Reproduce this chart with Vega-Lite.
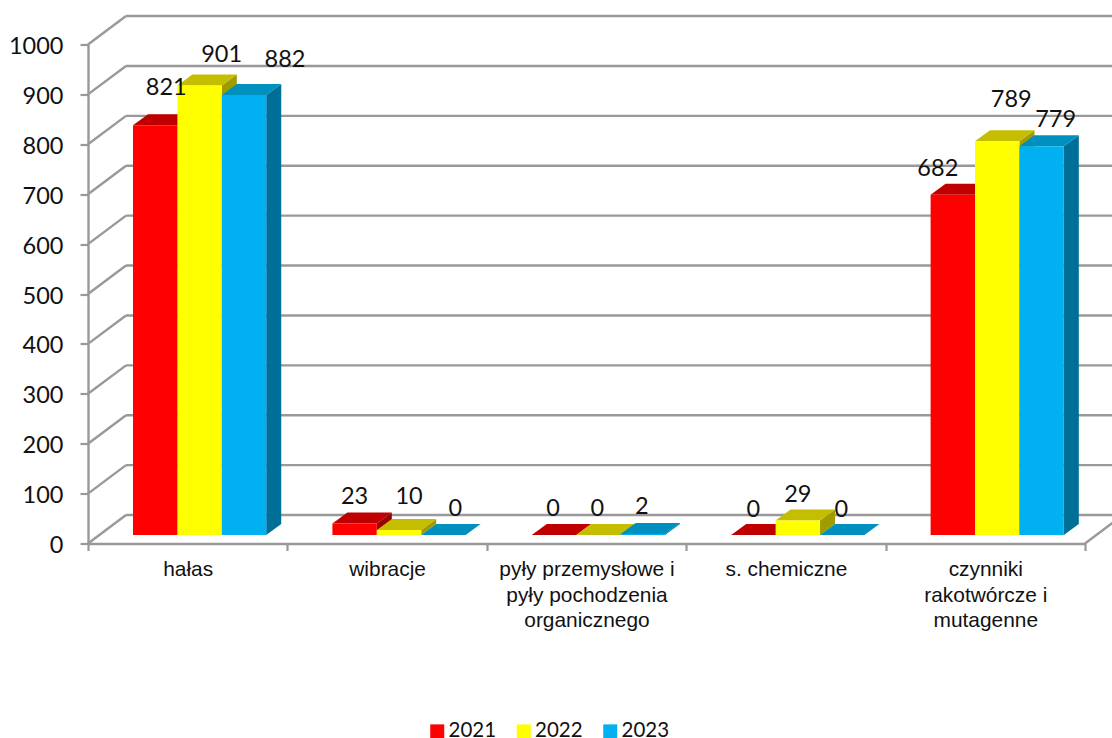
{
"$schema":"https://vega.github.io/schema/vega-lite/v6.json",
"width":997,"height":499,
"autosize":{"type":"none"},
"padding":{"left":88,"top":44.5,"right":27,"bottom":194.5},
"background":"white",
"view":{"stroke":null},
"datasets":{
"rows":[
{"category":"hałas","year":"2021","value":821},{"category":"hałas","year":"2022","value":901},{"category":"hałas","year":"2023","value":882},
{"category":"wibracje","year":"2021","value":23},{"category":"wibracje","year":"2022","value":10},{"category":"wibracje","year":"2023","value":0},
{"category":"pyły przemysłowe i pyły pochodzenia organicznego","year":"2021","value":0},{"category":"pyły przemysłowe i pyły pochodzenia organicznego","year":"2022","value":0},{"category":"pyły przemysłowe i pyły pochodzenia organicznego","year":"2023","value":2},
{"category":"s. chemiczne","year":"2021","value":0},{"category":"s. chemiczne","year":"2022","value":29},{"category":"s. chemiczne","year":"2023","value":0},
{"category":"czynniki rakotwórcze i mutagenne","year":"2021","value":682},{"category":"czynniki rakotwórcze i mutagenne","year":"2022","value":789},{"category":"czynniki rakotwórcze i mutagenne","year":"2023","value":779}
],
"grid":[{"g":0},{"g":100},{"g":200},{"g":300},{"g":400},{"g":500},{"g":600},{"g":700},{"g":800},{"g":900},{"g":1000}]
},
"layer":[
{
"data":{"name":"grid"},
"transform":[{"calculate":"datum.g+57","as":"gb"}],
"layer":[
{"mark":{"type":"rule","color":"#999999","strokeWidth":2.4},
"encoding":{
"x":{"datum":0.1906,"type":"quantitative","scale":{"domain":[0,5],"nice":false,"zero":false},
"axis":{"values":[0,1,2,3,4,5],"title":null,"grid":false,"domainColor":"#999999","domainWidth":2.4,"tickColor":"#999999","tickWidth":2.2,"tickSize":7,
"labelExpr":"datum.value>4?'':[['hałas'],['wibracje'],['pyły przemysłowe i','pyły pochodzenia','organicznego'],['s. chemiczne'],['czynniki','rakotwórcze i','mutagenne']][datum.value]",
"labelOffset":99.7,"labelFont":"Liberation Sans","labelFontSize":20.9,"labelColor":"#111111","labelLineHeight":25.5,"labelPadding":8,"labelOverlap":false,"labelBound":false,"labelFlush":false,"labelBaseline":"top","labelAngle":0}},
"x2":{"datum":5.2},
"y":{"field":"gb","type":"quantitative","scale":{"domain":[0,1000],"nice":false,"zero":false},
"axis":{"values":[0,100,200,300,400,500,600,700,800,900,1000],"format":"d","title":null,"grid":false,"domainColor":"#999999","domainWidth":2.4,"tickColor":"#999999","tickWidth":2.2,"tickSize":8,
"labelFont":"Lato","labelFontSize":23.5,"labelColor":"#111111","labelPadding":17,"labelOffset":2,"labelOverlap":false,"labelBound":false,"labelFlush":false}}
}},
{"mark":{"type":"rule","color":"#999999","strokeWidth":2.4},
"encoding":{"x":{"datum":0},"x2":{"datum":0.1906},"y":{"field":"g","type":"quantitative"},"y2":{"field":"gb"}}},
{"transform":[{"filter":"datum.g==0"}],
"mark":{"type":"rule","color":"#999999","strokeWidth":2.4},
"encoding":{"x":{"datum":5},"x2":{"datum":5.1906},"y":{"field":"g","type":"quantitative"},"y2":{"field":"gb"}}}
]
},
{
"data":{"name":"rows"},
"transform":[
{"calculate":"indexof(['hałas','wibracje','pyły przemysłowe i pyły pochodzenia organicznego','s. chemiczne','czynniki rakotwórcze i mutagenne'],datum.category)","as":"ci"},
{"calculate":"indexof(['2021','2022','2023'],datum.year)","as":"yi"},
{"calculate":"datum.ci+0.2257+datum.yi*0.2227","as":"x0"},
{"calculate":"datum.x0+0.2227","as":"x1"},
{"calculate":"datum.value+17","as":"ytop"},
{"calculate":"datum.ci+'-'+datum.yi","as":"key"}
],
"layer":[
{
"transform":[
{"calculate":"[0,1]","as":"p"},{"flatten":["p"]},
{"calculate":"datum.x1+datum.p*0.0752","as":"xs"},
{"calculate":"datum.ytop+datum.p*22","as":"ys"},
{"calculate":"17+datum.p*22","as":"ys2"},
{"calculate":"['#9A0000','#A09C00','#006F98'][datum.yi]","as":"shade"}
],
"mark":{"type":"area","orient":"vertical","opacity":1},
"encoding":{
"x":{"field":"xs","type":"quantitative"},
"y":{"field":"ys","type":"quantitative","stack":null},
"y2":{"field":"ys2"},
"detail":{"field":"key"},
"fill":{"field":"shade","type":"nominal","scale":null,"legend":null}
}
},
{
"transform":[
{"calculate":"[0,1]","as":"p"},{"flatten":["p"]},
{"calculate":"datum.x0+datum.p*0.0752","as":"xa"},
{"calculate":"datum.x1+datum.p*0.0752","as":"xb"},
{"calculate":"datum.ytop+datum.p*22","as":"yt"},
{"calculate":"['#C00000','#C4BD00','#0090BF'][datum.yi]","as":"shade"}
],
"mark":{"type":"area","orient":"horizontal","opacity":1},
"encoding":{
"y":{"field":"yt","type":"quantitative"},
"x":{"field":"xa","type":"quantitative","stack":null},
"x2":{"field":"xb"},
"detail":{"field":"key"},
"fill":{"field":"shade","type":"nominal","scale":null,"legend":null}
}
},
{
"transform":[{"calculate":"17","as":"ybase"}],
"mark":{"type":"rect","opacity":1},
"encoding":{
"x":{"field":"x0","type":"quantitative"},
"x2":{"field":"x1"},
"y":{"field":"ytop","type":"quantitative"},
"y2":{"field":"ybase"},
"color":{"field":"year","type":"nominal",
"scale":{"domain":["2021","2022","2023"],"range":["#FF0000","#FFFF00","#00B0F0"]},
"legend":{"orient":"none","legendX":339,"legendY":676.5,"direction":"horizontal","title":null,"symbolType":"square","symbolSize":196,"symbolStrokeWidth":0,"symbolOpacity":1,"labelFont":"Lato","labelFontSize":20.5,"labelColor":"#111111","labelOffset":1,"columnPadding":16.5,"padding":0}}
}
},
{
"transform":[
{"calculate":"[[[11,-37],[22,-30],[41,-35]],[[0,-27],[10,-33],[12,-26]],[[-1,-26],[-1,-26],[-1,-27]],[[0,-25],[0,-26],[-1,-25]],[[-15,-26],[14,-41],[14,-26]]][datum.ci][datum.yi]","as":"off"},
{"calculate":"(datum.x0+datum.x1)/2+datum.off[0]/199.4","as":"lx"},
{"calculate":"datum.ytop-datum.off[1]/0.499","as":"ly"}
],
"mark":{"type":"text","font":"Lato","fontSize":23.5,"color":"#111111","baseline":"middle","align":"center"},
"encoding":{
"x":{"field":"lx","type":"quantitative"},
"y":{"field":"ly","type":"quantitative"},
"text":{"field":"value","type":"quantitative"}
}
}
]
}
]
}
